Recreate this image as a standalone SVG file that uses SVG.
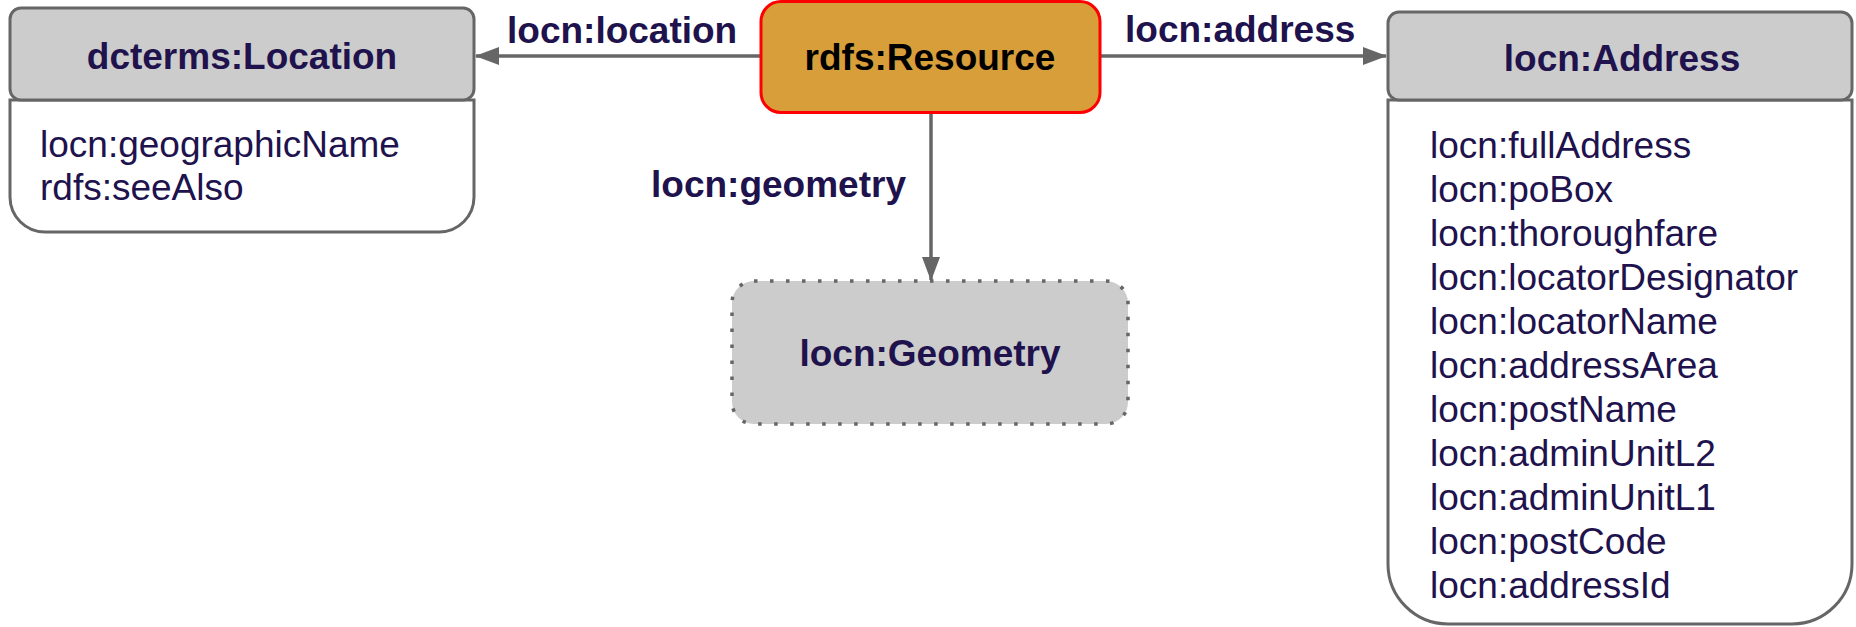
<svg xmlns="http://www.w3.org/2000/svg" width="1856" height="627" viewBox="0 0 1856 627">
<defs>
<style>
.hdr{fill:#cccccc;stroke:#666666;stroke-width:3}
.body{fill:#ffffff;stroke:#666666;stroke-width:3}
.title{font-family:"Liberation Sans",Arial,sans-serif;font-weight:bold;font-size:37px;fill:#20124d;text-anchor:middle}
.prop{font-family:"Liberation Sans",Arial,sans-serif;font-size:37px;fill:#20124d}
.lbl{font-family:"Liberation Sans",Arial,sans-serif;font-weight:bold;font-size:37px;fill:#20124d}
.edge{stroke:#666666;stroke-width:3.5;fill:none}
</style>
<marker id="arr" markerUnits="userSpaceOnUse" markerWidth="24" markerHeight="20" viewBox="0 0 24 20" refX="23" refY="10" orient="auto">
<path d="M0,1 L24,10 L0,19 Z" fill="#666666"/>
</marker>
</defs>
<rect width="1856" height="627" fill="#ffffff"/>
<g id="connectors">
<line class="edge" x1="760" y1="56" x2="476" y2="56" marker-end="url(#arr)"/>
<line class="edge" x1="1101" y1="56" x2="1386" y2="56" marker-end="url(#arr)"/>
<line class="edge" x1="931" y1="113" x2="931" y2="280" marker-end="url(#arr)"/>
<text class="lbl" x="507" y="43">locn:location</text>
<text class="lbl" x="1125" y="42">locn:address</text>
<text class="lbl" x="906" y="197" text-anchor="end">locn:geometry</text>
</g>
<g id="location">
<path class="body" d="M10,100 H474 V197 A35,35 0 0 1 439,232 H45 A35,35 0 0 1 10,197 Z"/>
<rect class="hdr" x="10" y="8" width="464" height="92" rx="11"/>
<text class="title" x="242" y="69">dcterms:Location</text>
<text class="prop" x="40" y="157">locn:geographicName</text>
<text class="prop" x="40" y="200">rdfs:seeAlso</text>
</g>
<g id="resource">
<rect x="761" y="1.5" width="339" height="111" rx="20" fill="#d79e3a" stroke="#ff0000" stroke-width="3"/>
<text class="title" x="930" y="70" style="fill:#000000">rdfs:Resource</text>
</g>
<g id="geometry">
<rect x="732" y="281" width="396" height="143" rx="22" fill="#cccccc" stroke="#666666" stroke-width="3.5" stroke-dasharray="3.5 12.5"/>
<text class="title" x="930" y="366">locn:Geometry</text>
</g>
<g id="address">
<path class="body" d="M1388,100 H1852 V564 A60,60 0 0 1 1792,624 H1448 A60,60 0 0 1 1388,564 Z"/>
<rect class="hdr" x="1388" y="12" width="464" height="88" rx="11"/>
<text class="title" x="1622" y="71">locn:Address</text>
<text class="prop" x="1430" y="158">locn:fullAddress</text>
<text class="prop" x="1430" y="202">locn:poBox</text>
<text class="prop" x="1430" y="246">locn:thoroughfare</text>
<text class="prop" x="1430" y="290">locn:locatorDesignator</text>
<text class="prop" x="1430" y="334">locn:locatorName</text>
<text class="prop" x="1430" y="378">locn:addressArea</text>
<text class="prop" x="1430" y="422">locn:postName</text>
<text class="prop" x="1430" y="466">locn:adminUnitL2</text>
<text class="prop" x="1430" y="510">locn:adminUnitL1</text>
<text class="prop" x="1430" y="554">locn:postCode</text>
<text class="prop" x="1430" y="598">locn:addressId</text>
</g>
</svg>
